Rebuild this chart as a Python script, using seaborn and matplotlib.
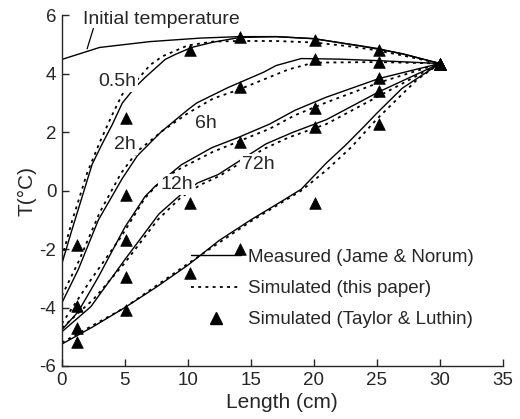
import numpy as np
import pandas as pd
import matplotlib
matplotlib.use("Agg")
import matplotlib.pyplot as plt
from matplotlib.lines import Line2D
import seaborn as sns

sns.set_style("ticks")
plt.rcParams["font.family"] = ["Liberation Sans", "DejaVu Sans"]
plt.rcParams["axes.unicode_minus"] = False

# ---------------- data ----------------
# Measured (Jame & Norum) – solid lines
init_x = [0, 3, 7, 11, 14.1, 17, 20, 23.7, 27.1, 30]
init_y = [4.49, 4.9, 5.1, 5.22, 5.27, 5.27, 5.2, 4.95, 4.68, 4.35]

m05_x = [0, 0.8, 2.4, 3.2, 4.0, 4.8, 5.8, 6.6, 8.2, 9.0, 10.3, 12, 14.1, 17, 20, 23, 25, 27, 30]
m05_y = [-2.5, -1.34, 0.9, 1.6, 2.26, 3.0, 3.53, 3.87, 4.49, 4.66, 4.9, 5.08, 5.24, 5.27, 5.2, 5.0, 4.87, 4.68, 4.35]

m2_x = [0, 1.3, 2.9, 4.8, 6.0, 7.9, 10, 10.7, 13.2, 16, 17, 19, 22, 25, 30]
m2_y = [-3.84, -2.7, -1.0, 0.42, 1.2, 2.02, 2.77, 3.0, 3.53, 4.05, 4.28, 4.52, 4.5, 4.45, 4.35]

m6_x = [0, 1.3, 2.9, 5.0, 6.6, 7.4, 9.5, 11.9, 14, 16.5, 18.5, 21, 25.2, 30]
m6_y = [-4.76, -4.14, -2.95, -1.25, -0.2, 0.15, 0.89, 1.47, 1.82, 2.28, 2.75, 3.2, 3.84, 4.35]

m12_x = [0, 2.3, 5.0, 7.7, 9.4, 10.8, 12.4, 14.1, 16.2, 18.3, 21, 25.2, 30]
m12_y = [-4.83, -3.97, -2.36, -0.8, -0.15, 0.27, 0.55, 1.02, 1.6, 1.99, 2.43, 3.39, 4.35]

m72_x = [0, 2.5, 5, 7.5, 10, 12.5, 15, 17.5, 19, 20, 21, 22.5, 24, 25, 27, 30]
m72_y = [-5.25, -4.65, -4.0, -3.3, -2.55, -1.7, -1.0, -0.35, 0.05, 0.5, 0.95, 1.55, 2.2, 2.65, 3.5, 4.35]

# Simulated (this paper) – dotted lines
s05_x = [0, 0.8, 2, 3, 4, 4.8, 6, 7, 8, 10, 12, 14, 17, 20, 23, 25, 27, 30]
s05_y = [-2.3, -1.05, 0.6, 1.65, 2.6, 3.3, 3.8, 4.3, 4.6, 4.97, 5.1, 5.12, 5.12, 5.07, 4.93, 4.8, 4.63, 4.35]

s2_x = [0, 1.3, 3, 4.7, 6, 8, 10, 12, 14, 16, 18, 20, 25, 30]
s2_y = [-3.6, -2.45, -0.75, 0.6, 1.35, 2.05, 2.65, 3.15, 3.45, 3.8, 4.15, 4.38, 4.4, 4.35]

s6_x = [0, 2.3, 4.7, 6.6, 8, 9.5, 12, 14, 16.5, 18.5, 21, 25.2, 30]
s6_y = [-4.55, -3.05, -1.58, -0.25, 0.4, 0.78, 1.33, 1.68, 2.12, 2.58, 3.02, 3.7, 4.35]

s12_x = [0, 2.5, 5, 7.6, 9.4, 11, 12.5, 14, 16, 18, 21, 25, 30]
s12_y = [-4.7, -3.72, -2.47, -1.0, -0.25, 0.2, 0.5, 0.9, 1.42, 1.82, 2.28, 3.2, 4.35]

s72_x = [0, 5, 10, 15, 19, 21, 23, 25, 26.3, 28.2, 30]
s72_y = [-5.2, -4.0, -2.5, -1.05, 0.0, 0.7, 1.5, 2.45, 3.0, 3.8, 4.35]

# Simulated (Taylor & Luthin) – triangles
tl_x = [1.2, 5.1, 10.2, 14.1, 20.1, 25.2, 30]
tl_05 = [-1.85, 2.5, 4.8, 5.25, 5.17, 4.8, 4.35]
tl_2 = [-3.94, -0.15, np.nan, 3.53, 4.52, 4.4, 4.35]
tl_6 = [-4.69, -1.68, np.nan, 1.68, 2.84, 3.87, 4.35]
tl_12 = [np.nan, -2.97, -0.41, np.nan, 2.19, 3.42, 4.35]
tl_72 = [-5.17, -4.1, -2.81, -1.99, -0.41, 2.29, 4.35]

curve_labels = ["0.5h", "2h", "6h", "12h", "72h"]
label_x = [4.4, 5.0, 11.4, 9.1, 15.6]
label_y = [3.73, 1.58, 2.3, 0.2, 0.89]

x_ticks = [0, 5, 10, 15, 20, 25, 30, 35]
y_ticks = [-6, -4, -2, 0, 2, 4, 6]

# ---------------- figure ----------------
fig = plt.figure(figsize=(5.2, 4.19), dpi=100)
ax = fig.add_axes([0.119, 0.1265, 0.848, 0.837])

measured = [(init_x, init_y), (m05_x, m05_y), (m2_x, m2_y), (m6_x, m6_y),
            (m12_x, m12_y), (m72_x, m72_y)]
simulated = [(s05_x, s05_y), (s2_x, s2_y), (s6_x, s6_y), (s12_x, s12_y), (s72_x, s72_y)]

for xs, ys in measured:
    sns.lineplot(x=xs, y=ys, ax=ax, color="black", lw=1.0, sort=False,
                 estimator=None, zorder=2)
for xs, ys in simulated:
    sns.lineplot(x=xs, y=ys, ax=ax, color="black", lw=1.3, sort=False,
                 estimator=None, zorder=2, linestyle=(0, (1.6, 2.4)))

tri = pd.DataFrame({"x": tl_x * 5,
                    "y": tl_05 + tl_2 + tl_6 + tl_12 + tl_72}).dropna()
sns.scatterplot(data=tri, x="x", y="y", ax=ax, marker="^", color="black",
                s=70, edgecolor="black", linewidth=0.5, zorder=3)

for lab, lx, ly in zip(curve_labels, label_x, label_y):
    ax.text(lx, ly, lab, fontsize=14, ha="center", va="center", zorder=4,
            bbox=dict(facecolor="white", edgecolor="none", pad=1.5))

ax.text(7.9, 5.86, "Initial temperature", fontsize=14, ha="center",
        va="center", zorder=4)
ax.plot([2.5, 2.0], [5.55, 4.85], color="black", lw=0.9)

ax.set_xlim(0, 35)
ax.set_ylim(-6, 6)
ax.set_xticks(x_ticks)
ax.set_yticks(y_ticks)
ax.tick_params(direction="in", length=5, width=1, labelsize=13.5, pad=4)
ax.set_xlabel("Length (cm)", fontsize=15, labelpad=3)
ax.set_ylabel("T(°C)", fontsize=15, labelpad=2)
sns.despine(ax=ax)
for s in ["left", "bottom"]:
    ax.spines[s].set_linewidth(1.0)

handles = [Line2D([], [], color="black", lw=1.0),
           Line2D([], [], color="black", lw=1.3, linestyle=(0, (1.6, 2.4))),
           Line2D([], [], color="black", marker="^", linestyle="none", markersize=8)]
ax.legend(handles, ["Measured (Jame & Norum)", "Simulated (this paper)",
                    "Simulated (Taylor & Luthin)"],
          loc="lower left", bbox_to_anchor=(0.262, 0.07), frameon=False,
          fontsize=13.5, handlelength=2.7, handletextpad=0.35,
          labelspacing=0.75, borderpad=0.2)

fig.savefig("out.png", dpi=100)
